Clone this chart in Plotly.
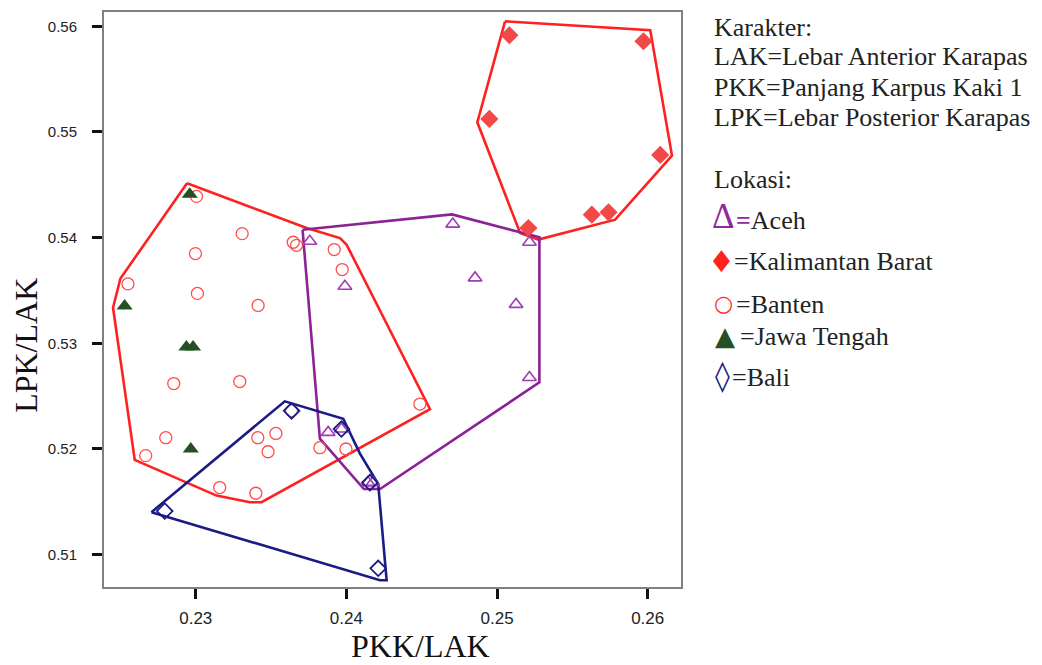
import plotly.graph_objects as go

# ---- measurements: PKK/LAK (x) vs LPK/LAK (y) by location ----
aceh_x = [0.24706, 0.25215, 0.24854, 0.25126, 0.25215, 0.23757, 0.23990,
          0.23879, 0.23967, 0.24143, 0.24176]
aceh_y = [0.54128, 0.53956, 0.53619, 0.53368, 0.52677, 0.53965, 0.53540,
          0.52157, 0.52189, 0.51682, 0.51682]

kalbar_x = [0.25082, 0.25972, 0.24949, 0.26083, 0.25629, 0.25740, 0.25208]
kalbar_y = [0.55915, 0.55858, 0.55123, 0.54783, 0.54217, 0.54239, 0.54091]

banten_x = [0.23005, 0.23308, 0.22998, 0.23647, 0.23669, 0.22550, 0.23011,
            0.23414, 0.23919, 0.23972, 0.22854, 0.23292, 0.23636, 0.22801,
            0.23412, 0.23532, 0.23480, 0.22668, 0.23159, 0.23399, 0.23824,
            0.23997, 0.24488]
banten_y = [0.54390, 0.54038, 0.53849, 0.53956, 0.53927, 0.53562, 0.53472,
            0.53358, 0.53887, 0.53698, 0.52619, 0.52638, 0.52361, 0.52107,
            0.52107, 0.52147, 0.51974, 0.51937, 0.51635, 0.51581, 0.52012,
            0.52000, 0.52425]

jateng_x = [0.22960, 0.22528, 0.22938, 0.22982, 0.22967]
jateng_y = [0.54411, 0.53352, 0.52965, 0.52965, 0.52000]

bali_x = [0.22794, 0.23636, 0.23967, 0.24156, 0.24211]
bali_y = [0.51413, 0.52361, 0.52189, 0.51682, 0.50871]

# ---- group outlines (polygon vertices) ----
hull_banten_x = [0.22942, 0.23736, 0.23957, 0.24001, 0.24555, 0.23437,
                 0.23359, 0.23138, 0.22595, 0.22451, 0.22500]
hull_banten_y = [0.54515, 0.54091, 0.53996, 0.53934, 0.52377, 0.51496,
                 0.51496, 0.51559, 0.51896, 0.53336, 0.53613]

hull_kalbar_x = [0.25053, 0.26017, 0.26161, 0.25784, 0.25274, 0.25153, 0.24869]
hull_kalbar_y = [0.56047, 0.55962, 0.54776, 0.54170, 0.53981, 0.54043, 0.55091]

hull_aceh_x = [0.23709, 0.24701, 0.25281, 0.25281, 0.24223, 0.24116, 0.23824]
hull_aceh_y = [0.54075, 0.54220, 0.54003, 0.52630, 0.51621, 0.51621, 0.52097]

hull_bali_x = [0.22706, 0.23591, 0.23979, 0.24090, 0.24211, 0.24267, 0.24223]
hull_bali_y = [0.51402, 0.52451, 0.52286, 0.51956, 0.51670, 0.50758, 0.50758]

x_ticks = [0.23, 0.24, 0.25, 0.26]
y_ticks = [0.51, 0.52, 0.53, 0.54, 0.55, 0.56]

RED = "#ff2020"
PURPLE = "#8a2393"
NAVY = "#1b1b86"
GREEN = "#245024"

fig = go.Figure()


def closed(v):
    return list(v) + [v[0]]


# outlines first so the points sit on top
for hx, hy, col in [(hull_banten_x, hull_banten_y, RED),
                    (hull_kalbar_x, hull_kalbar_y, RED),
                    (hull_aceh_x, hull_aceh_y, PURPLE),
                    (hull_bali_x, hull_bali_y, NAVY)]:
    fig.add_trace(go.Scatter(x=closed(hx), y=closed(hy), mode="lines",
                             line=dict(color=col, width=2.6),
                             hoverinfo="skip", showlegend=False))

fig.add_trace(go.Scatter(x=banten_x, y=banten_y, mode="markers", name="Banten",
                         marker=dict(symbol="circle-open", size=12,
                                     color="#ff4d4d", line=dict(width=1.3))))
fig.add_trace(go.Scatter(x=kalbar_x, y=kalbar_y, mode="markers",
                         name="Kalimantan Barat",
                         marker=dict(symbol="diamond", size=14, color="#f24848")))
fig.add_trace(go.Scatter(x=aceh_x, y=aceh_y, mode="markers", name="Aceh",
                         marker=dict(symbol="triangle-up-open", size=12,
                                     color="#a13cb4", line=dict(width=1.6))))
fig.add_trace(go.Scatter(x=jateng_x, y=jateng_y, mode="markers",
                         name="Jawa Tengah",
                         marker=dict(symbol="triangle-up", size=14, color=GREEN)))
fig.add_trace(go.Scatter(x=bali_x, y=bali_y, mode="markers", name="Bali",
                         marker=dict(symbol="diamond-open", size=12,
                                     color=NAVY, line=dict(width=1.8))))

# plot area in pixels
PL, PR, PT, PB = 104, 681, 10, 587


def px(xp):
    return (xp - PL) / (PR - PL)


def py(yp):
    return (PB - yp) / (PB - PT)


serif = "Liberation Serif, Times New Roman, serif"
shapes_font = "DejaVu Sans, sans-serif"
annotations = []

# axis titles
annotations.append(dict(text="PKK/LAK", x=px(420), y=py(666), xref="paper",
                        yref="paper", showarrow=False, xanchor="center",
                        yanchor="bottom",
                        font=dict(family=serif, size=32, color="#111111")))
annotations.append(dict(text="LPK/LAK", x=px(26), y=py(345), xref="paper",
                        yref="paper", showarrow=False, textangle=-90,
                        xanchor="center", yanchor="middle",
                        font=dict(family=serif, size=32, color="#111111")))

# key: heading lines
key_lines = [
    ("Karakter:", 35),
    ("LAK=Lebar Anterior Karapas", 64),
    ("PKK=Panjang Karpus Kaki 1", 95),
    ("LPK=Lebar Posterior Karapas", 125),
    ("Lokasi:", 187),
]
for txt, base in key_lines:
    annotations.append(dict(text=txt, x=px(712), y=py(base - 9), xref="paper",
                            yref="paper", showarrow=False, xanchor="left",
                            yanchor="middle", align="left",
                            font=dict(family=serif, size=26, color="#222222")))

# key: location symbols and their names
key_items = [
    # symbol, font, colour, size, centre (x, y), label, label x, baseline
    ("\u0394", serif, "#8f2a9c", 35, 723, 215,
     "<span style='color:#8f2a9c'><b>=</b></span>Aceh", 734, 228),
    ("\u2666", shapes_font, "#ff2020", 30, 721, 260, "=Kalimantan Barat", 732, 269),
    ("\u25cb", shapes_font, "#ff2a2a", 22, 723, 303, "=Banten", 734, 313),
    ("\u25b2", shapes_font, GREEN, 26, 725, 335, "=Jawa Tengah", 738, 345),
    ("\u25ca", shapes_font, NAVY, 30, 722, 375, "=Bali", 730, 386),
]
for sym, fam, col, ssize, sx, sy, label, lx, base in key_items:
    annotations.append(dict(text=sym, x=px(sx), y=py(sy), xref="paper",
                            yref="paper", showarrow=False, xanchor="center",
                            yanchor="middle",
                            font=dict(family=fam, size=ssize, color=col)))
    annotations.append(dict(text=label, x=px(lx), y=py(base - 9),
                            xref="paper", yref="paper", showarrow=False,
                            xanchor="left", yanchor="middle", align="left",
                            font=dict(family=serif, size=26, color="#222222")))

axis_common = dict(showline=True, mirror=True, linecolor="#808080",
                   linewidth=2, showgrid=False, zeroline=False,
                   ticks="outside", ticklen=10, tickwidth=3,
                   tickcolor="#111111")

fig.update_layout(
    width=1042, height=665,
    margin=dict(l=PL, r=1042 - PR, t=PT, b=665 - PB),
    paper_bgcolor="white", plot_bgcolor="white",
    showlegend=False,
    xaxis=dict(range=[0.22391, 0.26221], tickvals=x_ticks,
               ticktext=["%.2f" % v for v in x_ticks],
               tickfont=dict(family="Liberation Sans, Arial, sans-serif",
                             size=17, color="#222222"),
               ticklabelstandoff=5, **axis_common),
    yaxis=dict(range=[0.50694, 0.56135], tickvals=y_ticks,
               ticktext=["%.2f" % v for v in y_ticks],
               tickfont=dict(family="Liberation Sans, Arial, sans-serif",
                             size=15, color="#222222"),
               ticklabelstandoff=12, **axis_common),
    annotations=annotations,
)

fig.write_html("out.html")
